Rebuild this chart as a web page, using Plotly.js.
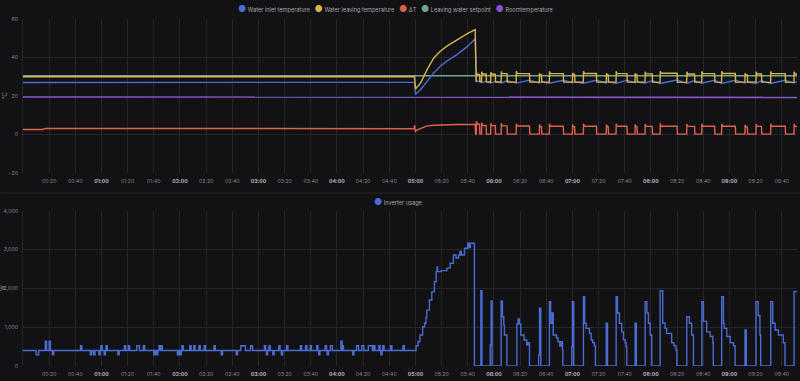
<!DOCTYPE html>
<html><head><meta charset="utf-8">
<script src="https://cdn.plot.ly/plotly-3.0.1.min.js"></script>
<style>html,body{margin:0;padding:0;background:#121214;}#chart{width:800px;height:381px;}</style>
</head><body><div id="chart"></div>
<script>
// ---------------- DATA ----------------
const tickLabels = ["00:20","00:40","01:00","01:20","01:40","02:00","02:20","02:40","03:00","03:20","03:40","04:00","04:20","04:40","05:00","05:20","05:40","06:00","06:20","06:40","07:00","07:20","07:40","08:00","08:20","08:40","09:00","09:20","09:40"];
const tempTicks = [-20, 0, 20, 40, 60];
const powerTicks = [0, 1000, 2000, 3000, 4000];
const tempUnit = "°C";
const powerUnit = "W";

const tempLegend = ["Water inlet temperature","Water leaving temperature","ΔT","Leaving water setpoint","Roomtemperature"];
const powerLegend = ["Inverter usage"];

// steady state and the 05:00 ramp (°C)
const rampTime    = ["00:00","00:15","00:17","01:30","03:00","04:30","04:59","04:59:20","05:00","05:00:30","05:04","05:09","05:14","05:19","05:24","05:32","05:40","05:45:40","05:46"];
const inletRamp   = [27.0,27.0,26.9,27.0,27.1,27.1,27.1,27.1,20.8,21.2,23.4,27.7,32.0,35.5,38.1,41.6,45.9,49.7,27.7];
const leavingRamp = [30.0,30.0,30.1,30.1,30.1,30.1,30.0,30.0,23.7,24.0,26.8,33.8,39.8,43.3,45.9,49.4,52.5,54.5,27.4];
const deltaRamp   = [2.6,2.6,3.2,3.1,3.0,3.0,3.0,4.7,1.2,2.2,3.0,4.5,4.8,5.0,5.1,5.2,5.2,5.2,0.2];

// compressor cycles after 05:46 (on / off moments read from the ΔT pulses)
const cycleOn  = ["05:46:30","05:50:30","05:57:30","06:05:30","06:17:00","06:34:40","06:42:20","07:00:00","07:08:20","07:25:50","07:33:20","07:47:50","07:55:30","08:07:00","08:27:20","08:38:50","08:54:00","09:11:50","09:20:20","09:31:30","09:49:20"];
const cycleOff = ["05:49:00","05:54:00","06:01:00","06:10:00","06:27:10","06:36:20","06:53:00","07:01:40","07:18:20","07:27:20","07:41:40","07:49:20","08:01:00","08:20:00","08:33:20","08:48:40","09:04:30","09:13:40","09:24:30","09:42:40","09:52:00"];
const leavingPeak = [32.0,32.6,32.4,32.8,33.0,31.8,32.8,32.0,32.8,31.8,32.8,31.8,32.6,32.9,32.6,32.8,32.8,31.8,32.6,32.8,32.6];
const leavingOn   = [31.2,31.4,31.3,31.6,31.6,31.0,31.6,31.1,31.7,31.0,31.6,31.0,31.5,31.8,31.4,31.6,31.7,31.0,31.4,31.6,31.4];
const leavingOff  = [27.4,27.4,27.3,27.3,27.2,27.3,27.2,27.3,27.2,27.3,27.2,27.3,27.2,27.1,27.2,27.2,27.1,27.3,27.2,27.1,27.2];
const deltaPeak   = [6.9,6.2,5.8,5.8,5.6,5.2,5.6,5.2,5.6,5.2,5.6,5.2,5.5,5.8,5.5,5.6,5.6,5.0,5.5,5.6,5.5];
const deltaOn     = [5.3,4.7,4.6,4.5,4.4,4.0,4.3,4.0,4.3,4.0,4.3,4.0,4.2,4.3,4.2,4.3,4.3,3.9,4.2,4.3,4.2];
const deltaOff    = [0.2,0.2,0.2,0.2,0.2,0.2,0.2,0.2,0.2,0.2,0.2,0.2,0.2,0.2,0.2,0.2,0.2,0.2,0.2,0.2,0.2];
const inletLow    = [27.5,27.0,26.8,26.8,26.7,26.8,26.6,26.9,26.6,26.8,26.6,26.9,26.7,26.5,26.6,26.6,26.5,26.8,26.6,26.5,26.7];
const inletHigh   = [27.8,27.6,27.6,27.9,28.2,27.4,28.2,27.4,28.2,27.4,28.1,27.3,27.9,28.3,27.9,28.2,28.2,27.3,27.9,28.2,27.6];

const setpointTime = ["00:00","09:52"];
const setpointTemp = [30.5,30.5];
const roomTime = ["00:00","05:38","05:38:30","09:52"];
const roomTemp = [19.5,19.5,19.2,19.2];

// Inverter usage (W)
const invBaseline = 400;
const blipStart = ["00:10","00:17","00:20","00:22:30","00:44","00:51:30","00:54","00:58","00:59:30","01:02","01:03:30","01:12:30","01:17:30","01:20:30","01:27","01:32","01:40","01:42","01:44","01:45:30","01:58","02:00","02:01:30","02:07:30","02:10:30","02:14:30","02:18:30","02:26","02:31:30","02:43","02:46:30","02:54","03:04:30","03:06","03:08","03:11","03:15:30","03:17:30","03:21:30","03:32","03:36","03:39:30","03:44:30","03:46","03:51","03:52:30","03:55","04:03","04:04:10","04:12","04:15","04:19","04:24","04:28","04:32","04:33:30","04:35","04:41","04:50:30"];
const blipEnd   = ["00:12","00:18","00:21","00:23:30","00:45","00:52:30","00:55","00:59","01:00:30","01:03","01:04:30","01:13:30","01:18:30","01:21:30","01:29","01:33","01:41","01:43","01:45","01:46:30","01:59","02:01","02:02:30","02:08:30","02:11:30","02:15:30","02:19:30","02:27","02:32:30","02:44","02:50","02:55:30","03:05:30","03:07","03:09","03:12","03:16:30","03:18:30","03:22:30","03:33","03:37","03:40:30","03:45:30","03:47","03:52","03:53:30","03:56:30","04:04","04:05","04:13","04:16:30","04:20:30","04:27","04:29","04:33","04:34:30","04:36","04:42","04:51:30"];
const blipPower = [290,640,640,290,520,290,290,290,520,290,520,290,520,520,520,520,290,290,520,520,290,290,520,520,520,520,520,520,290,290,520,520,520,290,520,290,520,290,520,520,520,520,520,290,520,290,520,640,520,290,520,520,520,520,520,290,520,520,520];

const invTime  = ["05:00:30","05:02","05:03:30","05:05:30","05:07","05:08","05:08:40","05:10:40","05:12:30","05:14:30","05:15:50","05:16:30","05:17","05:19:40","05:24","05:26:30","05:29","05:31","05:33","05:34","05:35","05:37:30","05:40","05:41","05:42","05:45:05",
  "05:50:00","05:50:50","05:57:10","05:57:50","05:58:35",
  "06:05:30","06:06:30","06:07:30","06:08:00","06:09:55",
  "06:17:30","06:18:30","06:19:30","06:20:30","06:23:00","06:25:00","06:26:00","06:27:10",
  "06:34:10","06:34:50","06:35:50",
  "06:42:25","06:43:20","06:44:30","06:45:20","06:47:50","06:49:00","06:50:20","06:51:30","06:52:20","06:52:40",
  "06:59:30","07:00:00","07:01:00",
  "07:08:25","07:09:20","07:10:30","07:13:00","07:14:20","07:15:30","07:16:50","07:17:35",
  "07:25:50","07:26:50",
  "07:33:25","07:34:25","07:35:55","07:37:40","07:39:00","07:40:20","07:41:00","07:41:35",
  "07:47:55","07:48:55",
  "07:55:35","07:56:55","07:58:05","07:59:25","08:00:40",
  "08:07:00","08:09:00","08:10:50","08:12:00","08:15:50","08:17:35","08:19:05","08:19:50",
  "08:27:25","08:29:25","08:31:10","08:32:30",
  "08:38:55","08:40:10","08:42:40","08:45:20","08:47:20","08:47:40",
  "08:54:05","08:55:25","08:56:00","08:58:00","09:00:35","09:03:05","09:04:20",
  "09:11:55","09:12:55",
  "09:20:20","09:22:00","09:23:20","09:23:55",
  "09:31:35","09:33:05","09:34:55","09:37:25","09:41:10","09:42:30",
  "09:49:25","09:51:40"];
const invPower = [520,630,800,1010,1100,1250,1440,1700,1910,2170,2430,2550,2430,2456,2520,2646,2860,2780,2860,2950,2860,3033,3162,3050,3162,0,
  1940,0,540,1675,0,
  1675,1270,1060,800,0,
  1080,1210,1080,800,670,540,600,0,
  280,1490,0,
  1657,1100,1365,800,720,626,515,626,412,0,
  500,1657,0,
  1786,1100,970,840,670,600,520,0,
  1100,0,
  1786,1365,1100,880,680,600,500,0,
  1100,0,
  1657,1365,1100,800,0,
  1940,1100,970,840,600,520,412,0,
  1270,1100,800,0,
  1657,1150,880,760,600,0,
  1786,1100,970,760,600,520,0,
  928,0,
  1657,1300,800,0,
  1657,1100,928,800,600,0,
  1915,1915];

// ---------------- STYLE ----------------
const BG = "#121214", GRID = "#25262a";
const C = {inlet:"#4a6bd1", leaving:"#d9b34a", delta:"#e0614b", setpoint:"#6fa88e", room:"#8a55d0", inv:"#4a6bd1"};
const legendColors = [C.inlet, C.leaving, C.delta, C.setpoint, C.room];
const W = 800, H = 381, ML = 22.5, MR = 3;
const PW = W - ML - MR;

// ---------------- HELPERS ----------------
const pad = n => String(n).padStart(2, "0");
const toSec = s => { const p = s.split(":").map(Number); return p[0]*3600 + p[1]*60 + (p[2] || 0); };
const stamp = sec => `2024-01-01 ${pad(Math.floor(sec/3600))}:${pad(Math.floor(sec%3600/60))}:${pad(Math.round(sec%60))}`;
const ts = s => stamp(toSec(s));
const px2x = px => (px - ML) / PW;
const px2y = py => 1 - py / H;

// build series
const inlet = {x: rampTime.map(ts), y: inletRamp.slice()};
const leaving = {x: rampTime.map(ts), y: leavingRamp.slice()};
const delta = {x: rampTime.map(ts), y: deltaRamp.slice()};
cycleOn.forEach((on, i) => {
  const a = toSec(on), b = toSec(cycleOff[i]);
  inlet.x.push(stamp(a), stamp(b)); inlet.y.push(inletLow[i], inletHigh[i]);
  leaving.x.push(stamp(a), stamp(a+8), stamp(a+45), stamp(b), stamp(b+15));
  leaving.y.push(leavingOff[i], leavingPeak[i], leavingOn[i], leavingOn[i], leavingOff[i]);
  delta.x.push(stamp(a), stamp(a+8), stamp(a+45), stamp(b), stamp(b+15));
  delta.y.push(deltaOff[i], deltaPeak[i], deltaOn[i], deltaOn[i], deltaOff[i]);
});

const inv = {x: [ts("00:00")], y: [invBaseline]};
blipStart.forEach((s, i) => {
  inv.x.push(ts(s), ts(blipEnd[i])); inv.y.push(blipPower[i], invBaseline);
});
invTime.forEach((t, i) => { inv.x.push(ts(t)); inv.y.push(invPower[i]); });

const line = (s, color, name, xa, ya, shape) => ({
  type: "scatter", mode: "lines", name, x: s.x, y: s.y, xaxis: xa, yaxis: ya,
  line: {color, width: 1.4, shape: shape || "linear"}, hoverinfo: "skip", showlegend: false
});

const data = [
  line({x: setpointTime.map(ts), y: setpointTemp}, C.setpoint, tempLegend[3], "x", "y"),
  line({x: roomTime.map(ts), y: roomTemp}, C.room, tempLegend[4], "x", "y"),
  line(delta, C.delta, tempLegend[2], "x", "y"),
  line(inlet, C.inlet, tempLegend[0], "x", "y"),
  line(leaving, C.leaving, tempLegend[1], "x", "y"),
  line(inv, C.inv, powerLegend[0], "x2", "y2", "hv")
];

const tickVals = tickLabels.map(ts);
const tickText = tickLabels.map(l => l.endsWith(":00") ? `<span style="color:#b3b5ba"><b>${l}</b></span>` : l);
const xRange = [ts("00:00"), ts("09:51:40")];
const FONT = "Inter, 'DejaVu Sans', sans-serif";
const TXT = "#85878d";

const xaxisBase = {
  type: "date", range: xRange, tickmode: "array", tickvals: tickVals, ticktext: tickText,
  showgrid: true, gridcolor: GRID, gridwidth: 1, zeroline: false, showline: false,
  ticks: "", tickfont: {size: 5.2, color: TXT, family: FONT}, ticklabelstandoff: 4, fixedrange: true
};
const yaxisBase = {
  showgrid: true, gridcolor: GRID, gridwidth: 1, zeroline: false,
  showline: true, linecolor: GRID, linewidth: 1, ticks: "",
  tickfont: {size: 5.2, color: TXT, family: FONT}, ticklabelstandoff: 3, fixedrange: true
};

const legendHtml = (names, colors) => names.map((n, i) =>
  `<span style="color:${colors[i]};font-size:9px">●</span>\u00a0${n}`).join("\u00a0\u00a0\u00a0");

const layout = {
  width: W, height: H,
  paper_bgcolor: BG, plot_bgcolor: BG,
  margin: {l: ML, r: MR, t: 0, b: 0, pad: 0},
  showlegend: false,
  font: {family: FONT, size: 5.2, color: TXT},
  xaxis: Object.assign({}, xaxisBase, {anchor: "y", domain: [0, 1]}),
  yaxis: Object.assign({}, yaxisBase, {domain: [px2y(173), px2y(19)], range: [-20, 60], tickmode: "array", tickvals: tempTicks}),
  xaxis2: Object.assign({}, xaxisBase, {anchor: "y2", domain: [0, 1]}),
  yaxis2: Object.assign({}, yaxisBase, {domain: [px2y(366), px2y(210.7)], range: [0, 4000], tickmode: "array", tickvals: powerTicks, tickformat: ",d"}),
  shapes: [{type: "line", xref: "paper", yref: "paper", x0: px2x(0), x1: px2x(W), y0: px2y(193), y1: px2y(193),
    line: {color: "#26272b", width: 1}}],
  annotations: [
    {xref: "paper", yref: "paper", x: px2x(395), y: px2y(8.7), xanchor: "center", yanchor: "middle", showarrow: false,
     text: legendHtml(tempLegend, legendColors), font: {size: 5.6, color: "#a3a5ab", family: FONT}},
    {xref: "paper", yref: "paper", x: px2x(398), y: px2y(201.3), xanchor: "center", yanchor: "middle", showarrow: false,
     text: legendHtml(powerLegend, [C.inv]), font: {size: 5.6, color: "#a3a5ab", family: FONT}},
    {xref: "paper", yref: "paper", x: px2x(5), y: px2y(96.5), xanchor: "center", yanchor: "middle", showarrow: false,
     textangle: -90, text: tempUnit, font: {size: 5.5, color: TXT, family: FONT}},
    {xref: "paper", yref: "paper", x: px2x(3), y: px2y(288.3), xanchor: "center", yanchor: "middle", showarrow: false,
     textangle: -90, text: powerUnit, font: {size: 5.5, color: TXT, family: FONT}}
  ]
};

Plotly.newPlot("chart", data, layout, {staticPlot: true, displayModeBar: false});
</script>
</body></html>
